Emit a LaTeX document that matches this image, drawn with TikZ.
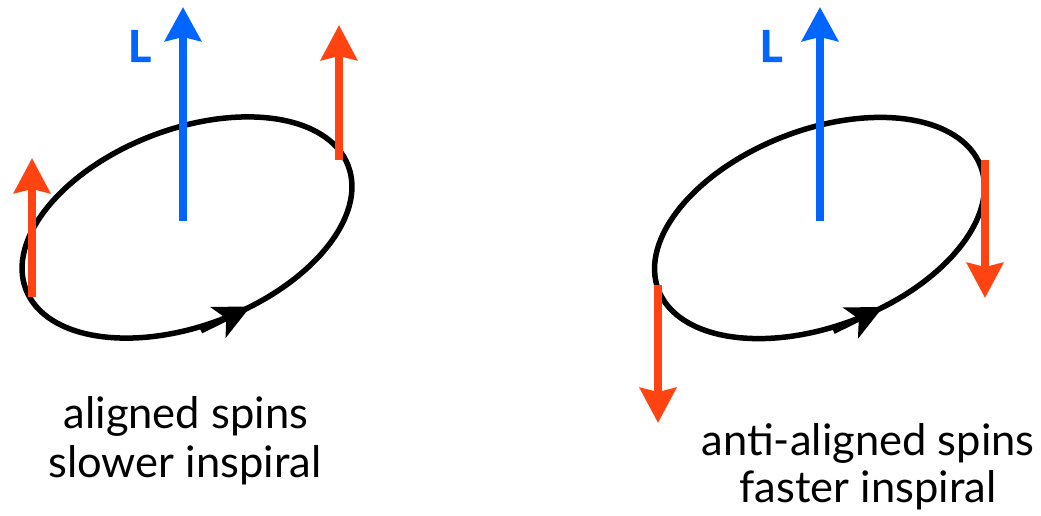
\documentclass[tikz,border=0pt]{standalone}
\usepackage{fontspec}
\setmainfont{Lato}
\newfontfamily\Lfont{Lato}[BoldFeatures={FakeBold=1.5}]
\usetikzlibrary{arrows.meta}
\definecolor{spinred}{RGB}{255,68,17}
\definecolor{lblue}{RGB}{0,102,255}
\begin{document}
\begin{tikzpicture}[x=1pt,y=1pt,
  orbit/.style={line width=5.5pt, black},
  orbittip/.style={line width=5.5pt, black, -{Stealth[length=36pt,width=34pt,inset=9pt]}},
  spinarrow/.style={line width=8pt, spinred, -{Stealth[length=35pt,width=36pt,inset=4pt]}},
  Larrow/.style={line width=8pt, lblue, -{Stealth[length=34pt,width=36pt,inset=4pt]}},
  Llabel/.style={text=lblue, inner sep=0pt, font=\fontsize{44}{44}\selectfont\Lfont\bfseries},
  caption/.style={font=\fontsize{43.5}{43.5}\selectfont, anchor=base, inner sep=0pt}]
\useasboundingbox (0,0) rectangle (1041,515);

% ---------- left panel: aligned spins ----------
\coordinate (C1) at (187,287.5);
\begin{scope}[shift={(C1)}, rotate=21]
  \draw[orbit] (0,0) ellipse [x radius=172.6, y radius=98.2];
  \coordinate (T1s) at (-24,-101.5);
  \coordinate (T1e) at (31,-96.5);
  \draw[orbittip] (T1s) -- (T1e);
\end{scope}
\coordinate (LAs) at (183,294);
\coordinate (LAe) at (183,508);
\draw[Larrow] (LAs) -- (LAe);
\node[Llabel] (L1) at (139.5,469) {L};
\coordinate (SAs) at (32,218);
\coordinate (SAe) at (32,357);
\draw[spinarrow] (SAs) -- (SAe);
\coordinate (SBs) at (339,355);
\coordinate (SBe) at (339,490);
\draw[spinarrow] (SBs) -- (SBe);
\node[caption] (capA1) at (186,87) {aligned spins};
\node[caption] (capA2) at (185,38) {slower inspiral};

% ---------- right panel: anti-aligned spins ----------
\coordinate (C2) at (819.5,287);
\begin{scope}[shift={(C2)}, rotate=21]
  \draw[orbit] (0,0) ellipse [x radius=172.6, y radius=98.2];
  \coordinate (T2s) at (-24,-101.5);
  \coordinate (T2e) at (31,-96.5);
  \draw[orbittip] (T2s) -- (T2e);
\end{scope}
\coordinate (LBs) at (820,294);
\coordinate (LBe) at (820,508);
\draw[Larrow] (LBs) -- (LBe);
\node[Llabel] (L2) at (771,469) {L};
\coordinate (SCs) at (658,230);
\coordinate (SCe) at (658,92);
\draw[spinarrow] (SCs) -- (SCe);
\coordinate (SDs) at (985,355);
\coordinate (SDe) at (985,217);
\draw[spinarrow] (SDs) -- (SDe);
\node[caption] (capB1) at (868,60) {anti-aligned spins};
\node[caption] (capB2) at (868,13) {faster inspiral};
\end{tikzpicture}
\end{document}
